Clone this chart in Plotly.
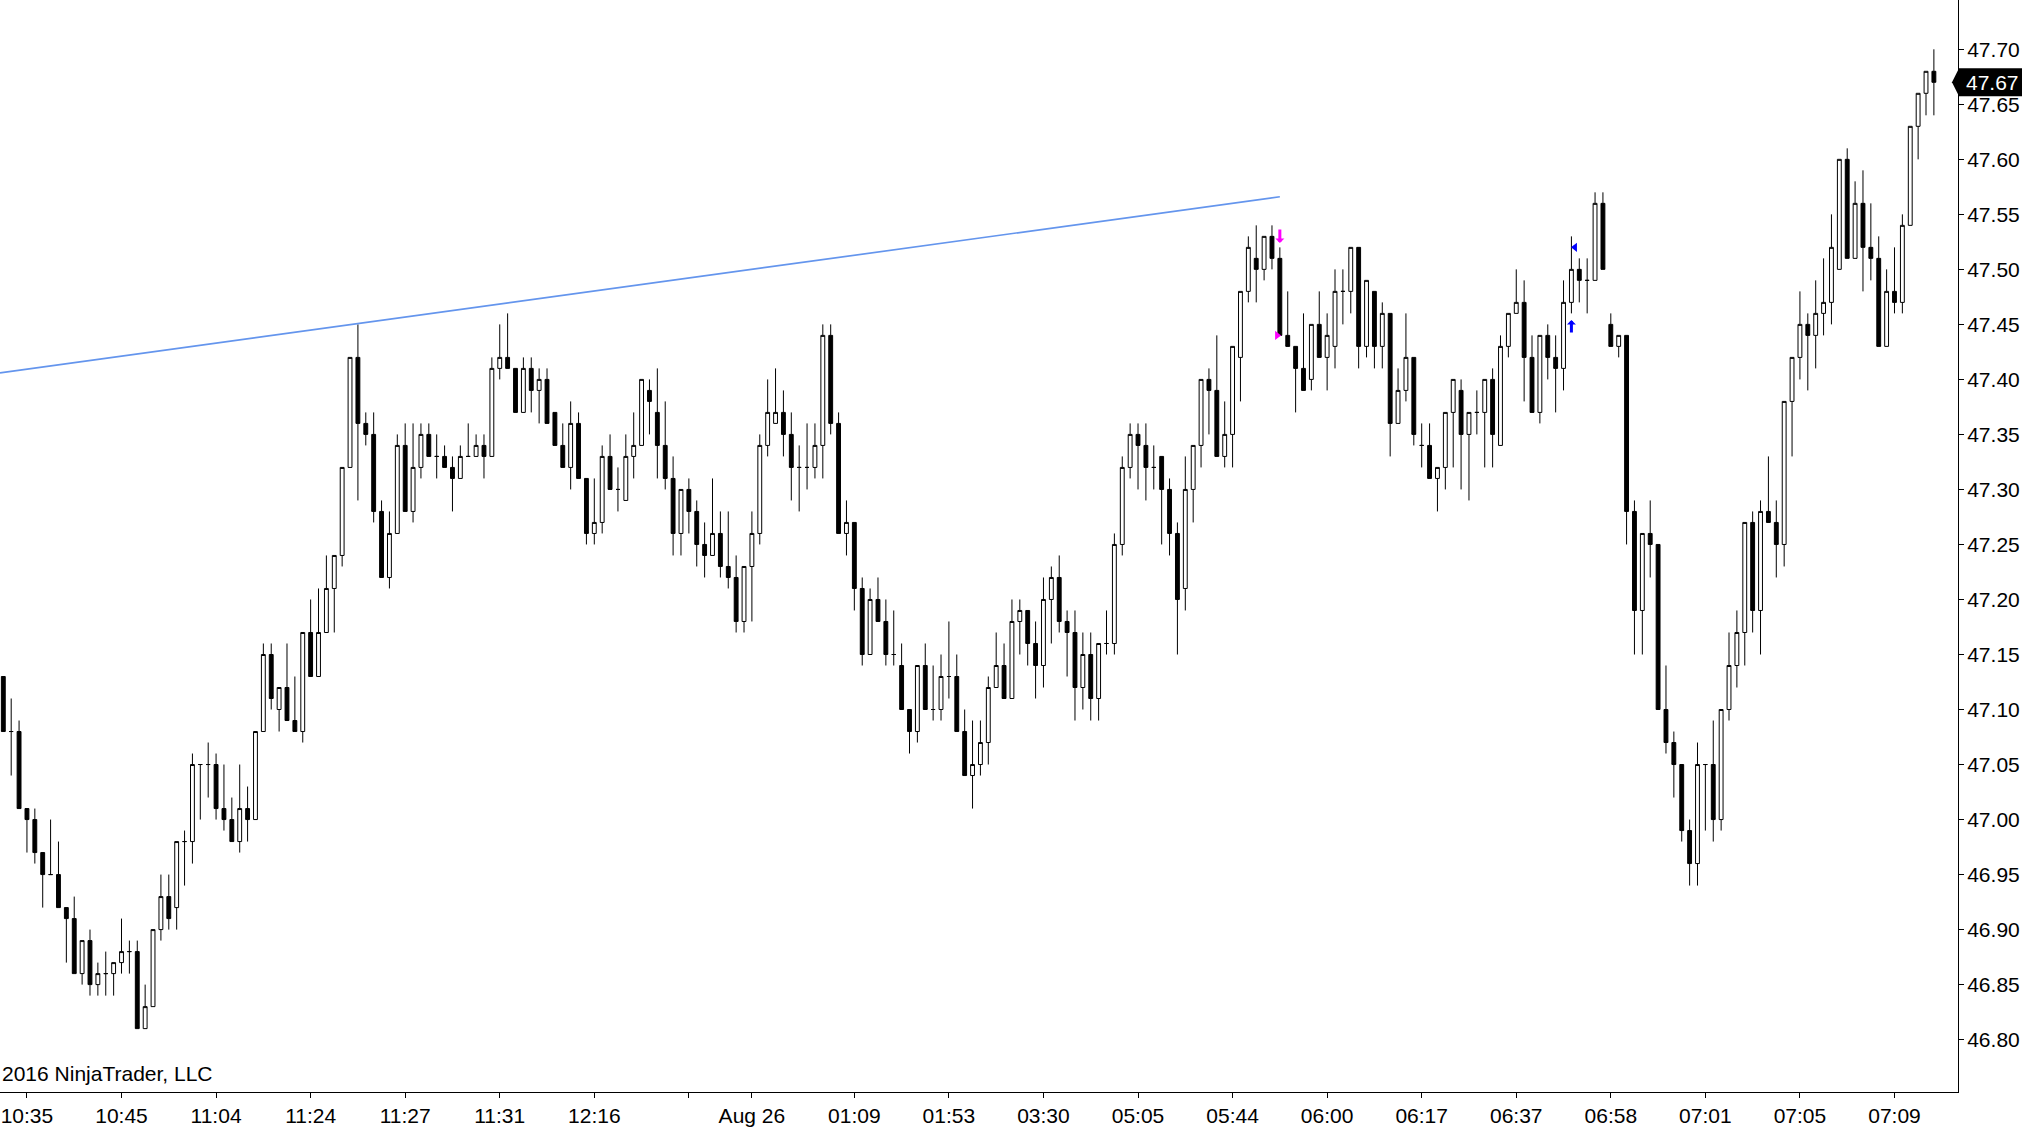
import plotly.graph_objects as go

# bar data, one value per bar (index 0..245)
opens = [
    47.13, 47.08, 47.08, 47.01, 47.00, 46.97, 46.95, 46.95, 46.92, 46.91,
    46.86, 46.89, 46.85, 46.86, 46.86, 46.87, 46.88, 46.88, 46.81, 46.83,
    46.90, 46.93, 46.92, 46.98, 46.98, 47.05, 47.05, 47.05, 47.01, 47.00,
    46.98, 47.01, 47.00, 47.08, 47.15, 47.10, 47.12, 47.09, 47.08, 47.17,
    47.13, 47.17, 47.21, 47.24, 47.32, 47.42, 47.36, 47.35, 47.28, 47.22,
    47.26, 47.34, 47.28, 47.32, 47.35, 47.33, 47.33, 47.32, 47.31, 47.33,
    47.33, 47.34, 47.33, 47.41, 47.42, 47.41, 47.37, 47.41, 47.39, 47.40,
    47.37, 47.34, 47.32, 47.36, 47.31, 47.26, 47.27, 47.33, 47.30, 47.29,
    47.33, 47.34, 47.39, 47.37, 47.34, 47.31, 47.26, 47.30, 47.28, 47.25,
    47.24, 47.26, 47.23, 47.22, 47.18, 47.23, 47.26, 47.34, 47.36, 47.37,
    47.35, 47.32, 47.32, 47.32, 47.34, 47.44, 47.36, 47.26, 47.27, 47.21,
    47.15, 47.20, 47.18, 47.15, 47.14, 47.10, 47.08, 47.14, 47.10, 47.10,
    47.13, 47.13, 47.08, 47.04, 47.05, 47.07, 47.12, 47.14, 47.11, 47.18,
    47.19, 47.16, 47.14, 47.20, 47.22, 47.18, 47.17, 47.12, 47.15, 47.11,
    47.16, 47.16, 47.25, 47.32, 47.35, 47.34, 47.32, 47.33, 47.30, 47.26,
    47.21, 47.30, 47.34, 47.40, 47.39, 47.33, 47.35, 47.42, 47.48, 47.51,
    47.50, 47.53, 47.51, 47.44, 47.43, 47.41, 47.40, 47.45, 47.42, 47.43,
    47.48, 47.48, 47.52, 47.43, 47.48, 47.43, 47.46, 47.36, 47.39, 47.42,
    47.34, 47.34, 47.31, 47.32, 47.37, 47.39, 47.35, 47.37, 47.37, 47.40,
    47.34, 47.43, 47.46, 47.47, 47.42, 47.37, 47.44, 47.42, 47.41, 47.47,
    47.50, 47.49, 47.49, 47.56, 47.45, 47.43, 47.44, 47.28, 47.19, 47.26,
    47.25, 47.10, 47.07, 47.05, 46.99, 46.96, 47.05, 47.05, 47.00, 47.10,
    47.14, 47.17, 47.27, 47.19, 47.28, 47.27, 47.25, 47.38, 47.42, 47.45,
    47.44, 47.46, 47.47, 47.50, 47.60, 47.51, 47.56, 47.52, 47.51, 47.43,
    47.48, 47.47, 47.54, 47.63, 47.66, 47.68,
]
highs = [
    47.13, 47.11, 47.09, 47.01, 47.01, 46.97, 47.00, 46.98, 46.92, 46.93,
    46.89, 46.90, 46.87, 46.88, 46.87, 46.91, 46.89, 46.89, 46.85, 46.90,
    46.95, 46.95, 46.98, 46.99, 47.06, 47.05, 47.07, 47.06, 47.05, 47.02,
    47.05, 47.03, 47.08, 47.16, 47.16, 47.12, 47.16, 47.13, 47.17, 47.20,
    47.21, 47.24, 47.24, 47.32, 47.42, 47.45, 47.37, 47.37, 47.29, 47.28,
    47.35, 47.36, 47.36, 47.36, 47.36, 47.35, 47.34, 47.33, 47.34, 47.36,
    47.35, 47.35, 47.42, 47.45, 47.46, 47.41, 47.42, 47.42, 47.41, 47.41,
    47.37, 47.36, 47.38, 47.37, 47.31, 47.31, 47.34, 47.35, 47.32, 47.35,
    47.37, 47.40, 47.40, 47.41, 47.38, 47.33, 47.30, 47.31, 47.29, 47.27,
    47.31, 47.28, 47.28, 47.24, 47.23, 47.28, 47.35, 47.40, 47.41, 47.39,
    47.37, 47.34, 47.36, 47.36, 47.45, 47.45, 47.37, 47.29, 47.27, 47.22,
    47.21, 47.22, 47.20, 47.19, 47.16, 47.10, 47.14, 47.16, 47.14, 47.15,
    47.18, 47.15, 47.10, 47.09, 47.09, 47.13, 47.17, 47.16, 47.20, 47.20,
    47.19, 47.18, 47.22, 47.23, 47.24, 47.19, 47.19, 47.17, 47.17, 47.16,
    47.19, 47.26, 47.33, 47.36, 47.36, 47.36, 47.34, 47.33, 47.31, 47.27,
    47.33, 47.34, 47.40, 47.41, 47.44, 47.38, 47.43, 47.48, 47.53, 47.54,
    47.53, 47.54, 47.52, 47.48, 47.43, 47.46, 47.45, 47.48, 47.46, 47.50,
    47.50, 47.52, 47.52, 47.49, 47.48, 47.47, 47.46, 47.41, 47.46, 47.42,
    47.36, 47.36, 47.32, 47.37, 47.40, 47.40, 47.37, 47.39, 47.40, 47.41,
    47.44, 47.46, 47.50, 47.49, 47.44, 47.44, 47.45, 47.44, 47.49, 47.53,
    47.51, 47.51, 47.57, 47.57, 47.46, 47.44, 47.44, 47.29, 47.26, 47.29,
    47.25, 47.14, 47.08, 47.05, 47.00, 47.07, 47.05, 47.09, 47.10, 47.17,
    47.19, 47.27, 47.28, 47.29, 47.33, 47.29, 47.38, 47.42, 47.48, 47.46,
    47.49, 47.51, 47.55, 47.60, 47.61, 47.58, 47.59, 47.56, 47.53, 47.50,
    47.52, 47.55, 47.63, 47.66, 47.68, 47.70,
]
lows = [
    47.08, 47.04, 47.01, 46.97, 46.96, 46.92, 46.95, 46.92, 46.87, 46.86,
    46.85, 46.84, 46.84, 46.84, 46.84, 46.86, 46.86, 46.81, 46.81, 46.83,
    46.89, 46.90, 46.90, 46.94, 46.96, 47.00, 47.02, 47.00, 46.99, 46.98,
    46.97, 46.98, 47.00, 47.08, 47.10, 47.08, 47.09, 47.08, 47.07, 47.13,
    47.13, 47.17, 47.17, 47.23, 47.32, 47.29, 47.34, 47.27, 47.22, 47.21,
    47.26, 47.28, 47.27, 47.31, 47.33, 47.31, 47.32, 47.28, 47.31, 47.33,
    47.33, 47.31, 47.33, 47.40, 47.41, 47.37, 47.37, 47.37, 47.36, 47.36,
    47.34, 47.32, 47.30, 47.31, 47.25, 47.25, 47.26, 47.30, 47.28, 47.29,
    47.31, 47.34, 47.35, 47.31, 47.30, 47.24, 47.24, 47.26, 47.23, 47.22,
    47.24, 47.22, 47.21, 47.17, 47.17, 47.18, 47.25, 47.33, 47.36, 47.33,
    47.29, 47.28, 47.30, 47.31, 47.31, 47.35, 47.26, 47.24, 47.19, 47.14,
    47.15, 47.18, 47.14, 47.14, 47.10, 47.06, 47.07, 47.10, 47.09, 47.09,
    47.11, 47.08, 47.04, 47.01, 47.04, 47.05, 47.12, 47.11, 47.11, 47.15,
    47.14, 47.11, 47.12, 47.16, 47.17, 47.13, 47.09, 47.10, 47.09, 47.09,
    47.15, 47.15, 47.24, 47.31, 47.30, 47.29, 47.30, 47.25, 47.24, 47.15,
    47.19, 47.27, 47.32, 47.35, 47.33, 47.32, 47.32, 47.38, 47.47, 47.47,
    47.49, 47.50, 47.44, 47.43, 47.37, 47.39, 47.39, 47.42, 47.39, 47.41,
    47.45, 47.46, 47.41, 47.42, 47.41, 47.41, 47.33, 47.36, 47.38, 47.34,
    47.32, 47.31, 47.28, 47.30, 47.32, 47.30, 47.29, 47.35, 47.32, 47.32,
    47.34, 47.42, 47.46, 47.38, 47.37, 47.36, 47.40, 47.37, 47.39, 47.46,
    47.47, 47.46, 47.49, 47.50, 47.43, 47.42, 47.25, 47.15, 47.15, 47.22,
    47.10, 47.06, 47.02, 46.98, 46.94, 46.94, 46.99, 46.98, 46.99, 47.09,
    47.12, 47.14, 47.17, 47.15, 47.27, 47.22, 47.23, 47.33, 47.40, 47.39,
    47.41, 47.44, 47.45, 47.50, 47.51, 47.51, 47.48, 47.49, 47.43, 47.43,
    47.46, 47.46, 47.54, 47.60, 47.64, 47.64,
]
closes = [
    47.08, 47.08, 47.01, 47.00, 46.97, 46.95, 46.95, 46.92, 46.91, 46.86,
    46.89, 46.85, 46.86, 46.86, 46.87, 46.88, 46.88, 46.81, 46.83, 46.90,
    46.93, 46.91, 46.98, 46.98, 47.05, 47.05, 47.05, 47.01, 47.00, 46.98,
    47.01, 47.00, 47.08, 47.15, 47.11, 47.12, 47.09, 47.08, 47.17, 47.13,
    47.17, 47.21, 47.24, 47.32, 47.42, 47.36, 47.35, 47.28, 47.22, 47.26,
    47.34, 47.28, 47.32, 47.35, 47.33, 47.33, 47.32, 47.31, 47.33, 47.33,
    47.34, 47.33, 47.41, 47.42, 47.41, 47.37, 47.41, 47.39, 47.40, 47.36,
    47.34, 47.32, 47.36, 47.31, 47.26, 47.27, 47.33, 47.30, 47.30, 47.33,
    47.34, 47.40, 47.38, 47.34, 47.31, 47.26, 47.30, 47.28, 47.25, 47.24,
    47.26, 47.23, 47.22, 47.18, 47.23, 47.26, 47.34, 47.37, 47.37, 47.35,
    47.32, 47.32, 47.32, 47.34, 47.44, 47.36, 47.26, 47.27, 47.21, 47.15,
    47.20, 47.18, 47.15, 47.15, 47.10, 47.08, 47.14, 47.10, 47.10, 47.13,
    47.13, 47.08, 47.04, 47.05, 47.07, 47.12, 47.14, 47.11, 47.18, 47.19,
    47.16, 47.14, 47.20, 47.22, 47.18, 47.17, 47.12, 47.15, 47.11, 47.16,
    47.16, 47.25, 47.32, 47.35, 47.34, 47.32, 47.32, 47.30, 47.26, 47.20,
    47.30, 47.34, 47.40, 47.39, 47.33, 47.35, 47.43, 47.48, 47.52, 47.50,
    47.53, 47.51, 47.44, 47.43, 47.41, 47.39, 47.45, 47.42, 47.44, 47.48,
    47.48, 47.52, 47.43, 47.49, 47.43, 47.46, 47.36, 47.39, 47.42, 47.35,
    47.34, 47.31, 47.32, 47.37, 47.40, 47.35, 47.37, 47.37, 47.40, 47.35,
    47.43, 47.46, 47.47, 47.42, 47.37, 47.44, 47.42, 47.41, 47.47, 47.50,
    47.49, 47.49, 47.56, 47.50, 47.43, 47.44, 47.28, 47.19, 47.26, 47.25,
    47.10, 47.07, 47.05, 46.99, 46.96, 47.05, 47.05, 47.00, 47.10, 47.14,
    47.17, 47.27, 47.19, 47.28, 47.27, 47.25, 47.38, 47.42, 47.45, 47.44,
    47.46, 47.47, 47.52, 47.60, 47.51, 47.56, 47.52, 47.51, 47.43, 47.48,
    47.47, 47.54, 47.63, 47.66, 47.68, 47.67,
]

# time axis labels (bar index -> label)
tick_bars = [3, 15, 27, 39, 51, 63, 75, 87, 95, 108, 120, 132, 144,
             156, 168, 180, 192, 204, 216, 228, 240]
tick_labels = ['10:35', '10:45', '11:04', '11:24', '11:27', '11:31', '12:16',
               '', 'Aug 26', '01:09', '01:53', '03:30', '05:05', '05:44',
               '06:00', '06:17', '06:37', '06:58', '07:01', '07:05', '07:09']

price_ticks = [46.80, 46.85, 46.90, 46.95, 47.00, 47.05, 47.10, 47.15, 47.20,
               47.25, 47.30, 47.35, 47.40, 47.45, 47.50, 47.55, 47.60, 47.65,
               47.70]
price_labels = ['46.80', '46.85', '46.90', '46.95', '47.00', '47.05', '47.10',
                '47.15', '47.20', '47.25', '47.30', '47.35', '47.40', '47.45',
                '47.50', '47.55', '47.60', '47.65', '47.70']

# drawn trend line (bar index, price)
trend_x = [-0.42, 162.0]
trend_y = [47.406, 47.566]

# strategy markers
short_entry_x = [162]
short_entry_y = [47.524]
short_exit_x = [161.65]
short_exit_y = [47.44]
long_entry_x = [199]
long_entry_y = [47.454]
long_exit_x = [199.45]
long_exit_y = [47.52]

FONT = 'Arial, Liberation Sans, sans-serif'
FSIZE = 21

bars = list(range(len(closes)))

fig = go.Figure()

fig.add_trace(go.Candlestick(
    x=bars, open=opens, high=highs, low=lows, close=closes,
    increasing=dict(fillcolor='white', line=dict(color='black', width=1)),
    decreasing=dict(fillcolor='black', line=dict(color='black', width=1)),
    whiskerwidth=0, hoverinfo='skip', showlegend=False,
))

fig.add_trace(go.Scatter(
    x=trend_x, y=trend_y, mode='lines',
    line=dict(color='#6495ED', width=1.7),
    hoverinfo='skip', showlegend=False,
))

fig.add_trace(go.Scatter(
    x=short_exit_x, y=short_exit_y, mode='markers',
    marker=dict(symbol='triangle-right', size=8, color='#FF00FF'),
    hoverinfo='skip', showlegend=False,
))
fig.add_trace(go.Scatter(
    x=long_exit_x, y=long_exit_y, mode='markers',
    marker=dict(symbol='triangle-left', size=8, color='#0000FF'),
    hoverinfo='skip', showlegend=False,
))

# entry arrows
for xs, ys in zip(short_entry_x, short_entry_y):
    fig.add_annotation(x=xs, y=ys, ax=0, ay=-15, text='', showarrow=True,
                       arrowhead=1, arrowsize=0.5, arrowwidth=3,
                       arrowcolor='#FF00FF')
for xs, ys in zip(long_entry_x, long_entry_y):
    fig.add_annotation(x=xs, y=ys, ax=0, ay=14, text='', showarrow=True,
                       arrowhead=1, arrowsize=0.5, arrowwidth=3,
                       arrowcolor='#0000FF')

# last price marker on the price axis
last = closes[-1]
fig.add_shape(type='path', xref='paper', yref='y',
              xsizemode='pixel', ysizemode='pixel',
              xanchor=1, yanchor=last,
              path='M -6 0 L 1 14 L 64 14 L 64 -14 L 1 -14 Z',
              fillcolor='black', line=dict(width=0), layer='above')
fig.add_annotation(x=1, y=last, xref='paper', yref='y', xanchor='left',
                   xshift=6, text=f'{last:.2f}', showarrow=False,
                   font=dict(family=FONT, size=FSIZE, color='white'))

fig.add_annotation(x=0, y=0, xref='paper', yref='paper', xanchor='left',
                   yanchor='middle', xshift=0, yshift=19,
                   text='2016 NinjaTrader, LLC', showarrow=False,
                   font=dict(family=FONT, size=FSIZE, color='black'))

fig.update_layout(
    width=2022, height=1132,
    margin=dict(l=0, r=64, t=0, b=40, autoexpand=False),
    paper_bgcolor='white', plot_bgcolor='white',
    font=dict(family=FONT, size=FSIZE, color='black'),
    hovermode=False,
    xaxis=dict(
        range=[-0.42, 248.06], tickmode='array',
        tickvals=tick_bars, ticktext=tick_labels,
        ticks='outside', ticklen=5, tickcolor='black', tickwidth=1,
        ticklabelstandoff=0,
        showline=True, linecolor='black', linewidth=1,
        showgrid=False, zeroline=False, automargin=False,
        rangeslider=dict(visible=False), fixedrange=True,
    ),
    yaxis=dict(
        side='right', range=[46.7524, 47.7448], tickmode='array',
        tickvals=price_ticks, ticktext=price_labels,
        ticks='outside', ticklen=5, tickcolor='black', tickwidth=1,
        ticklabelstandoff=-1,
        showline=True, linecolor='black', linewidth=1,
        showgrid=False, zeroline=False, automargin=False, fixedrange=True,
    ),
)

# page has a default body margin; drop it so the chart fills the window
fig.write_html(
    'out.html',
    config={'displayModeBar': False},
    post_script="document.body.style.margin='0';"
                "document.body.style.overflow='hidden';",
)
